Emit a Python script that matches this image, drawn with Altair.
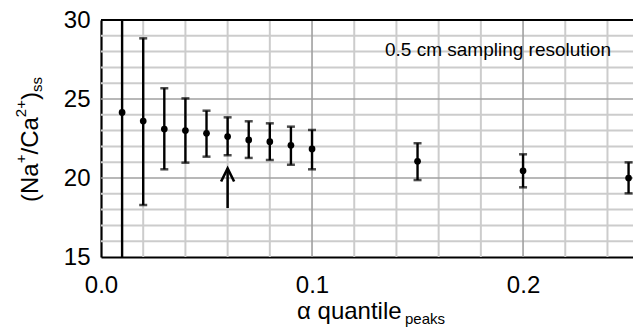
import altair as alt
import pandas as pd

# ---- data ----
alpha = [0.01, 0.02, 0.03, 0.04, 0.05, 0.06, 0.07, 0.08, 0.09, 0.10, 0.15, 0.20, 0.25]
ratio = [24.15, 23.60, 23.10, 23.00, 22.83, 22.62, 22.41, 22.30, 22.07, 21.84, 21.06, 20.46, 20.00]
err_low = [10.0, 18.29, 20.55, 20.97, 21.35, 21.44, 21.27, 21.14, 20.84, 20.55, 19.87, 19.41, 19.03]
err_high = [40.0, 28.84, 25.68, 25.04, 24.26, 23.84, 23.59, 23.46, 23.25, 23.04, 22.20, 21.50, 20.99]

x_ticks = [0.0, 0.1, 0.2]
y_ticks = [15, 20, 25, 30]
minor_x = [0.02, 0.04, 0.06, 0.08, 0.12, 0.14, 0.16, 0.18, 0.22, 0.24]
major_x = [0.1, 0.2]
minor_y = [16, 17, 18, 19, 21, 22, 23, 24, 26, 27, 28, 29]
major_y = [20, 25]
frame_top = [30]

arrow_x = [0.06]
arrow_tail = [18.1]
arrow_tip = [20.6]

annotation = "0.5 cm sampling resolution"

FONT = "Liberation Sans"
W, H = 532, 237

df = pd.DataFrame({"alpha": alpha, "ratio": ratio, "lo": err_low, "hi": err_high})
xs = alt.Scale(domain=[0, 0.2521], nice=False, zero=False)
ys = alt.Scale(domain=[15, 30], nice=False, zero=False)

AX = alt.Axis(values=x_ticks, format=".1f", grid=False, ticks=False,
              domainColor="black", domainWidth=2.2, labelFlush=False,
              labelFontSize=24, labelFont=FONT, labelColor="black",
              labelPadding=16)
AY = alt.Axis(values=y_ticks, format="d", grid=False, ticks=False,
              domainColor="black", domainWidth=2.2,
              labelFontSize=24, labelFont=FONT, labelColor="black",
              labelPadding=11)


def X(f):
    return alt.X(f, type="quantitative", scale=xs, axis=AX, title=None)


def Y(f):
    return alt.Y(f, type="quantitative", scale=ys, axis=AY, title=None)


grid_minor_v = alt.Chart(pd.DataFrame({"g": minor_x})).mark_rule(
    color="#cccccc", strokeWidth=2).encode(x=X("g"))
grid_minor_h = alt.Chart(pd.DataFrame({"g": minor_y})).mark_rule(
    color="#cccccc", strokeWidth=2).encode(y=Y("g"))
grid_major_v = alt.Chart(pd.DataFrame({"g": major_x})).mark_rule(
    color="#a0a0a0", strokeWidth=1.6).encode(x=X("g"))
grid_major_h = alt.Chart(pd.DataFrame({"g": major_y})).mark_rule(
    color="#a0a0a0", strokeWidth=1.6).encode(y=Y("g"))

top_line = alt.Chart(pd.DataFrame({"y": frame_top})).mark_rule(
    color="black", strokeWidth=2.2).encode(
    y=Y("y"), x=alt.value(0), x2=alt.value(W))

bars = alt.Chart(df).mark_rule(color="black", strokeWidth=2.4, clip=True).encode(
    x=X("alpha"), y=Y("lo"), y2="hi:Q")
cap_lo = alt.Chart(df).mark_tick(color="black", orient="horizontal", size=8,
                                 thickness=2.5, clip=True).encode(
    x=X("alpha"), y=Y("lo"))
cap_hi = alt.Chart(df).mark_tick(color="black", orient="horizontal", size=8,
                                 thickness=2.5, clip=True).encode(
    x=X("alpha"), y=Y("hi"))
pts = alt.Chart(df).mark_circle(color="black", size=45, opacity=1).encode(
    x=X("alpha"), y=Y("ratio"))

adf = pd.DataFrame({"x": arrow_x, "t0": arrow_tail, "t1": arrow_tip})
shaft = alt.Chart(adf).mark_rule(color="black", strokeWidth=2.5).encode(
    x=X("x"), y=Y("t0"), y2=alt.Y2("t1:Q"))
head = alt.Chart(adf).mark_point(
    shape="M-1,2L0,0L1,2", size=169, filled=False, color="black",
    strokeWidth=2.6, opacity=1, strokeJoin="miter").encode(
    x=X("x"), y=Y("t1"))


def txt(s, x, y, size, angle=0):
    return alt.Chart(pd.DataFrame({"t": [s]})).mark_text(
        align="left", baseline="alphabetic", font=FONT, fontSize=size,
        color="black", angle=angle).encode(
        text="t:N", x=alt.value(x), y=alt.value(y))


note = txt(annotation, 284, 35.7, 19)

xtitle = [txt("\u03b1 quantile", 196, 299, 24), txt("peaks", 304, 304, 15)]

ytitle = [
    txt("(Na", -63.5, 182, 24, 270),
    txt("+", -75, 143.3, 15, 270),
    txt("/Ca", -63.5, 134.5, 24, 270),
    txt("2+", -75, 97.2, 15, 270),
    txt(")", -63.5, 80.1, 24, 270),
    txt("ss", -59, 72.1, 15, 270),
]

chart = alt.layer(
    grid_minor_v, grid_minor_h, grid_major_v, grid_major_h,
    top_line, bars, cap_lo, cap_hi, pts, shaft, head, note,
    *xtitle, *ytitle,
).properties(
    width=W, height=H,
    padding={"left": 93, "top": 12, "right": 0, "bottom": 71},
    autosize=alt.AutoSizeParams(type="none"),
).configure_view(stroke=None).configure(font=FONT, background="white")

chart.save("out.html", embed_options={"renderer": "svg", "actions": False})
